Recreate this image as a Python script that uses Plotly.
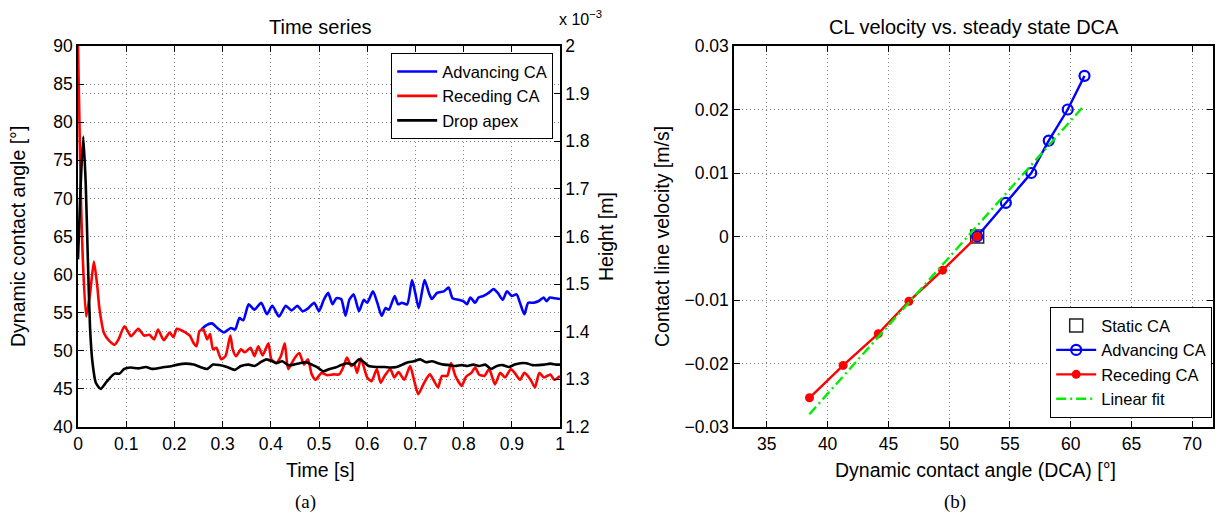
import numpy as np
import plotly.graph_objects as go

W, H = 1222, 518

# ---------------- Data: (a) time series ----------------
t_rec = [0, 0.003, 0.006, 0.010, 0.017, 0.025, 0.033, 0.040, 0.044, 0.054,
         0.065, 0.076, 0.084, 0.096, 0.103, 0.110, 0.125, 0.137, 0.148, 0.158,
         0.166, 0.178, 0.190, 0.198, 0.205, 0.214, 0.223, 0.232, 0.240, 0.246,
         0.252, 0.260, 0.268, 0.274, 0.280, 0.287, 0.297, 0.306, 0.316, 0.321,
         0.328, 0.338, 0.346, 0.358, 0.366, 0.374, 0.383, 0.395, 0.401, 0.411,
         0.421, 0.429, 0.436, 0.448, 0.459, 0.469, 0.477, 0.485, 0.493, 0.505,
         0.517, 0.530, 0.542, 0.550, 0.558, 0.567, 0.573, 0.579, 0.587, 0.600,
         0.609, 0.620, 0.628, 0.636, 0.648, 0.656, 0.665, 0.677, 0.689, 0.697,
         0.706, 0.718, 0.730, 0.739, 0.747, 0.755, 0.766, 0.774, 0.783, 0.796,
         0.805, 0.816, 0.824, 0.832, 0.843, 0.853, 0.865, 0.876, 0.886, 0.898,
         0.906, 0.917, 0.926, 0.939, 0.948, 0.957, 0.967, 0.980, 0.988, 1.0]
receding_ca = [90, 80, 70, 62, 54.5, 57.5, 61.7, 58.5, 55.8, 52.3,
               51.3, 50.8, 51.5, 53.2, 52.6, 51.9, 52.9, 52.0, 52.1, 51.5,
               52.8, 51.4, 52.4, 51.8, 52.9, 52.7, 52.4, 52.0, 51.0, 50.6,
               52.6, 52.8, 51.5, 52.2, 50.2, 50.4, 48.9, 49.3, 52.0, 50.2,
               49.3, 50.2, 49.8, 50.4, 49.3, 50.6, 49.4, 51.0, 48.9, 48.4,
               49.3, 51.0, 47.6, 48.9, 49.7, 48.2, 48.9, 46.9, 46.2, 47.1,
               46.8, 46.9, 46.9, 47.8, 49.1, 48.0, 48.3, 47.1, 49.0, 46.5,
               46.0, 47.6, 45.8, 46.7, 47.6, 46.5, 47.2, 46.2, 48.0, 46.2,
               44.3, 45.8, 46.9, 46.0, 45.2, 46.7, 46.7, 48.4, 46.7, 45.4,
               46.6, 47.1, 47.8, 46.9, 46.7, 47.6, 45.6, 47.1, 46.5, 47.6,
               47.1, 46.2, 47.1, 46.2, 45.2, 47.1, 46.5, 46.9, 46.2, 46.7]

t_adv = [0.256, 0.265, 0.278, 0.289, 0.303, 0.317, 0.326, 0.335, 0.343, 0.354,
         0.366, 0.380, 0.392, 0.403, 0.417, 0.431, 0.443, 0.455, 0.466, 0.478,
         0.490, 0.500, 0.510, 0.519, 0.528, 0.536, 0.546, 0.555, 0.563, 0.572,
         0.583, 0.593, 0.600, 0.612, 0.621, 0.630, 0.638, 0.645, 0.657, 0.664,
         0.672, 0.683, 0.693, 0.700, 0.707, 0.719, 0.728, 0.734, 0.745, 0.759,
         0.769, 0.777, 0.790, 0.800, 0.807, 0.814, 0.824, 0.831, 0.841, 0.852,
         0.862, 0.871, 0.881, 0.890, 0.900, 0.910, 0.917, 0.926, 0.934, 0.945,
         0.955, 0.966, 0.972, 0.979, 0.989, 1.0]
advancing_ca = [52.8, 53.3, 53.6, 53.0, 52.4, 53.0, 52.8, 54.3, 54.0, 56.1,
                55.4, 56.3, 54.8, 55.9, 54.5, 55.9, 55.3, 55.9, 55.2, 55.6,
                56.3, 55.2, 56.7, 57.6, 56.1, 56.9, 56.8, 54.6, 56.7, 57.4,
                55.2, 56.7, 56.3, 57.8, 56.3, 54.6, 55.6, 55.4, 57.2, 56.1,
                56.3, 56.1, 59.3, 57.5, 55.6, 59.3, 57.6, 56.8, 57.6, 57.8,
                58.3, 56.9, 56.7, 56.5, 56.1, 57.0, 56.3, 57.0, 57.2, 57.6,
                58.1, 57.6, 56.7, 57.8, 57.2, 57.4, 56.3, 54.8, 56.3, 56.3,
                56.5, 57.0, 56.5, 57.0, 56.9, 56.8]

t_apex = [0, 0.005, 0.011, 0.016, 0.020, 0.025, 0.030, 0.037, 0.047, 0.060,
          0.076, 0.086, 0.096, 0.109, 0.125, 0.141, 0.154, 0.174, 0.195, 0.207,
          0.223, 0.240, 0.256, 0.268, 0.280, 0.293, 0.309, 0.325, 0.338, 0.354,
          0.366, 0.379, 0.391, 0.403, 0.411, 0.424, 0.436, 0.448, 0.460, 0.473,
          0.485, 0.497, 0.509, 0.522, 0.534, 0.546, 0.558, 0.571, 0.583, 0.591,
          0.603, 0.620, 0.636, 0.648, 0.661, 0.673, 0.685, 0.697, 0.710, 0.722,
          0.734, 0.747, 0.759, 0.771, 0.783, 0.796, 0.808, 0.820, 0.832, 0.845,
          0.857, 0.869, 0.881, 0.894, 0.906, 0.918, 0.930, 0.943, 0.955, 0.967,
          0.980, 0.992, 1.0]
apex_height_mm = [1.552, 1.696, 1.810, 1.712, 1.568, 1.408, 1.336, 1.293, 1.280, 1.296,
                  1.312, 1.312, 1.322, 1.325, 1.323, 1.326, 1.322, 1.325, 1.328, 1.331,
                  1.333, 1.331, 1.325, 1.322, 1.331, 1.330, 1.326, 1.320, 1.328, 1.331,
                  1.328, 1.336, 1.342, 1.338, 1.334, 1.338, 1.330, 1.331, 1.334, 1.336,
                  1.331, 1.325, 1.317, 1.322, 1.325, 1.330, 1.334, 1.331, 1.342, 1.338,
                  1.328, 1.326, 1.326, 1.325, 1.326, 1.331, 1.336, 1.338, 1.342, 1.336,
                  1.338, 1.334, 1.331, 1.330, 1.328, 1.330, 1.328, 1.331, 1.328, 1.331,
                  1.322, 1.328, 1.330, 1.326, 1.331, 1.334, 1.334, 1.330, 1.330, 1.331,
                  1.333, 1.331, 1.331]

time_ticks = [0, 0.1, 0.2, 0.3, 0.4, 0.5, 0.6, 0.7, 0.8, 0.9, 1]
time_ticklabels = ["0", "0.1", "0.2", "0.3", "0.4", "0.5", "0.6", "0.7", "0.8", "0.9", "1"]
angle_ticks = [40, 45, 50, 55, 60, 65, 70, 75, 80, 85, 90]
height_ticks_mm = [1.2, 1.3, 1.4, 1.5, 1.6, 1.7, 1.8, 1.9, 2.0]
height_ticklabels = ["1.2", "1.3", "1.4", "1.5", "1.6", "1.7", "1.8", "1.9", "2"]

# ---------------- Data: (b) CL velocity vs DCA ----------------
static_dca = [52.3]
static_vel = [0.0]
adv_dca = [52.3, 54.66, 56.75, 58.19, 59.75, 61.13]
adv_vel = [0.0, 0.0053, 0.0100, 0.0151, 0.0200, 0.0253]
rec_dca = [52.3, 49.46, 46.69, 44.17, 41.28, 38.51]
rec_vel = [0.0, -0.0053, -0.0102, -0.0153, -0.0203, -0.0254]
fit_dca = [38.5, 61.1]
fit_vel = [-0.0280, 0.0206]

dca_ticks = [35, 40, 45, 50, 55, 60, 65, 70]
vel_ticks = [-0.03, -0.02, -0.01, 0, 0.01, 0.02, 0.03]
vel_ticklabels = ["\u22120.03", "\u22120.02", "\u22120.01", "0", "0.01", "0.02", "0.03"]

# ---------------- Figure ----------------
FONT = "Liberation Sans, Arial, Helvetica, sans-serif"
SERIF = "Liberation Serif, DejaVu Serif, serif"
GRID = dict(showgrid=True, gridcolor="#808080", gridwidth=1, griddash="1px,3px")
AX = dict(showline=True, linecolor="black", linewidth=1.5, ticks="inside",
          ticklen=6, tickwidth=1, tickcolor="black", zeroline=False, automargin=False,
          tickfont=dict(family=FONT, size=17.5, color="black"))

def px(x):
    return x / W

def py(y):
    return 1 - y / H

fig = go.Figure()

line_shape = dict(shape="spline", smoothing=0.6)
fig.add_trace(go.Scatter(x=t_adv, y=advancing_ca, mode="lines", name="Advancing CA",
                         line=dict(color="#0000ff", width=2.6, **line_shape),
                         xaxis="x", yaxis="y", legend="legend"))
fig.add_trace(go.Scatter(x=t_rec, y=receding_ca, mode="lines", name="Receding CA",
                         line=dict(color="#ff0000", width=2.6, **line_shape),
                         xaxis="x", yaxis="y", legend="legend"))
fig.add_trace(go.Scatter(x=t_apex, y=np.array(apex_height_mm) * 1e-3, mode="lines",
                         name="Drop apex",
                         line=dict(color="#000000", width=2.6, **line_shape),
                         xaxis="x", yaxis="y2", legend="legend"))

fig.add_trace(go.Scatter(x=static_dca, y=static_vel, mode="markers", name="Static CA",
                         marker=dict(symbol="square-open", size=13, color="#222222",
                                     line=dict(width=1.5)),
                         xaxis="x2", yaxis="y3", legend="legend2"))
fig.add_trace(go.Scatter(x=adv_dca, y=adv_vel, mode="lines+markers", name="Advancing CA",
                         line=dict(color="#0000ff", width=2.4),
                         marker=dict(symbol="circle-open", size=10, color="#0000ff",
                                     line=dict(width=2.2)),
                         xaxis="x2", yaxis="y3", legend="legend2"))
fig.add_trace(go.Scatter(x=rec_dca, y=rec_vel, mode="lines+markers", name="Receding CA",
                         line=dict(color="#ff0000", width=2.4),
                         marker=dict(symbol="circle", size=9, color="#ff0000"),
                         xaxis="x2", yaxis="y3", legend="legend2"))
fig.add_trace(go.Scatter(x=fit_dca, y=fit_vel, mode="lines", name="Linear fit",
                         line=dict(color="#00ee00", width=2.4, dash="10px,4px,2px,4px"),
                         xaxis="x2", yaxis="y3", legend="legend2"))

ydom = [py(427), py(46)]

fig.update_layout(
    width=W, height=H,
    margin=dict(l=0, r=0, t=0, b=0, autoexpand=False),
    paper_bgcolor="white", plot_bgcolor="white",
    font=dict(family=FONT, size=17, color="black"),
    xaxis=dict(domain=[px(78), px(560)], range=[0, 1], anchor="y",
               tickvals=time_ticks, ticktext=time_ticklabels, mirror="ticks", **AX, **GRID),
    yaxis=dict(domain=ydom, range=[40, 90], anchor="x", tickvals=angle_ticks,
               mirror=True, **AX, **GRID),
    yaxis2=dict(range=[1.2e-3, 2.0e-3], overlaying="y", side="right", anchor="x",
                tickvals=[v * 1e-3 for v in height_ticks_mm], ticktext=height_ticklabels,
                **AX, **GRID),
    xaxis2=dict(domain=[px(734), px(1213)], range=[32.3, 71.7], anchor="y3",
                tickvals=dca_ticks, mirror="ticks", **AX, **GRID),
    yaxis3=dict(domain=ydom, range=[-0.03, 0.03], anchor="x2", tickvals=vel_ticks,
                ticktext=vel_ticklabels, mirror="ticks", **AX, **GRID),
    legend=dict(x=px(553), y=py(53), xanchor="right", yanchor="top",
                bgcolor="white", bordercolor="black", borderwidth=1.2,
                font=dict(family=FONT, size=16.5, color="black"),
                tracegroupgap=0, itemwidth=40),
    legend2=dict(x=px(1212), y=py(418), xanchor="right", yanchor="bottom",
                 bgcolor="white", bordercolor="black", borderwidth=1.2,
                 font=dict(family=FONT, size=16.5, color="black"),
                 tracegroupgap=0, itemwidth=40),
    showlegend=True,
)

def ann(text, x, y, size=19.5, angle=0, family=FONT):
    fig.add_annotation(text=text, x=px(x), y=py(y), xref="paper", yref="paper",
                       xanchor="center", yanchor="middle", showarrow=False,
                       textangle=angle, font=dict(family=family, size=size, color="black"))

ann("Time series", 320, 27, size=20)
ann("CL velocity vs. steady state DCA", 974, 27, size=20)
ann("x 10<sup>\u22123</sup>", 580, 18, size=16)
ann("Dynamic contact angle [°]", 18, 237, angle=-90)
ann("Height [m]", 606, 237, angle=-90)
ann("Time [s]", 320, 470)
ann("Contact line velocity [m/s]", 662, 237, angle=-90)
ann("Dynamic contact angle (DCA) [°]", 975, 470)
ann("(a)", 305, 502, size=19, family=SERIF)
ann("(b)", 955, 502, size=19, family=SERIF)

fig.write_html("out.html", config={"displayModeBar": False},
               post_script="document.body.style.margin='0';document.body.style.overflow='hidden';")
